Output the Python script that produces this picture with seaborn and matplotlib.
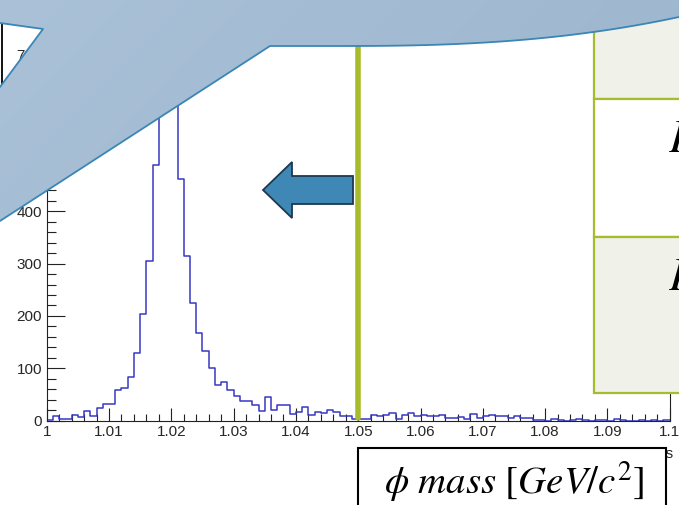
import numpy as np
import pandas as pd
import matplotlib
matplotlib.use("Agg")
import matplotlib.pyplot as plt
import seaborn as sns
from matplotlib.patches import Polygon, Rectangle
from matplotlib.ticker import FixedLocator, MultipleLocator

# ---- histogram content: K+K- invariant mass, 100 bins of 1 MeV ----
bin_lo, bin_hi, bin_width = 1.0, 1.1, 0.001
counts = [
    1, 8, 3, 3, 10, 6, 18, 8, 23, 31,
    31, 58, 63, 84, 129, 204, 306, 488, 640, 735,
    610, 462, 315, 224, 168, 132, 100, 68, 74, 59,
    46, 37, 37, 29, 19, 44, 21, 29, 29, 13,
    16, 26, 10, 17, 14, 21, 16, 8, 8, 3,
    3, 3, 10, 8, 10, 15, 3, 10, 15, 8,
    11, 8, 8, 10, 5, 5, 6, 3, 13, 5,
    8, 10, 8, 8, 5, 8, 5, 5, 1, 1,
    0, 3, 1, 0, 1, 2, 1, 0, 1, 1,
    0, 3, 1, 0, 0, 1, 0, 1, 0, 1,
]
x_ticks = [1.0, 1.01, 1.02, 1.03, 1.04, 1.05, 1.06, 1.07, 1.08, 1.09, 1.1]
x_tick_labels = ["1", "1.01", "1.02", "1.03", "1.04", "1.05", "1.06",
                 "1.07", "1.08", "1.09", "1.1"]
y_ticks = [0, 100, 200, 300, 400, 500, 600, 700]
y_tick_labels = ["0", "100", "200", "300", "400", "500", "600", "700"]
y_top = 766
cut_value = 1.05
axis_title = "invariant mass"
box_label = r"$\phi\ mass\ [GeV/c^2]$"
row_letters = ["$P$", "$P$"]

edges = [round(bin_lo + i * bin_width, 4) for i in range(len(counts) + 1)]
centers = [(a + b) / 2 for a, b in zip(edges[:-1], edges[1:])]
df = pd.DataFrame({"mass": centers, "entries": counts})

sns.set_theme(style="ticks")
plt.rcParams["font.family"] = ["Liberation Sans", "DejaVu Sans"]
plt.rcParams["mathtext.fontset"] = "stix"

W, H = 679, 505
fig = plt.figure(figsize=(W / 100, H / 100), dpi=100, facecolor="white")

# plot frame in pixel terms -> figure fractions
px_l, px_r, px_b, px_t = 46.7, 669.7, 420.5, 20.0
ax = fig.add_axes([px_l / W, (H - px_b) / H, (px_r - px_l) / W, (px_b - px_t) / H])
ax.set_facecolor("white")

sns.histplot(data=df, x="mass", weights="entries", bins=edges, element="step",
             fill=False, color="#3838c2", linewidth=1.1, ax=ax)

ax.set_xlim(bin_lo, bin_hi)
ax.set_ylim(0, y_top)
ax.set_xlabel("")
ax.set_ylabel("")
ax.xaxis.set_major_locator(FixedLocator(x_ticks))
ax.set_xticklabels(x_tick_labels)
ax.xaxis.set_minor_locator(MultipleLocator(0.002))
ax.yaxis.set_major_locator(FixedLocator(y_ticks))
ax.set_yticklabels(y_tick_labels)
ax.yaxis.set_minor_locator(MultipleLocator(20))
ax.tick_params(axis="x", which="major", direction="in", length=9.4, width=0.8,
               pad=3.6, labelsize=11, color="#222222")
ax.tick_params(axis="x", which="minor", direction="in", length=4.7, width=0.8,
               color="#222222")
ax.tick_params(axis="y", which="major", direction="in", length=13, width=0.8,
               pad=3.4, labelsize=11, color="#222222")
ax.tick_params(axis="y", which="minor", direction="in", length=6.5, width=0.8,
               color="#222222")
for s in ax.spines.values():
    s.set_visible(True)
    s.set_linewidth(0.8)
    s.set_color("#222222")

# selection cut
ax.axvline(cut_value, ymin=0.006, ymax=1.0, color="#a8bb2b", linewidth=4.0)

# ---- annotation layer in pixel coordinates ----
ov = fig.add_axes([0, 0, 1, 1], zorder=5)
ov.set_xlim(0, W)
ov.set_ylim(H, 0)
ov.axis("off")
ov.patch.set_alpha(0)

# left border piece of the canvas
ov.plot([1.5, 1.5], [20, 95], color="black", linewidth=1.3, zorder=1)

# x-axis title, mostly hidden under the label box
ov.text(673, 458, axis_title, ha="right", va="baseline", fontsize=11,
        color="#222222", zorder=1)

# speech-bubble banner across the top
xs = np.linspace(W, 340, 60)
t = (xs - 340) / (W - 340)
curve = np.column_stack([xs, 46 - 29 * t ** 2.5])
outline = np.vstack([
    [[0, 0], [W, 0]],
    curve,
    [[270, 46], [0, 221], [0, 87], [43, 29], [0, 23]],
])
bubble = Polygon(outline, closed=True, facecolor="none", edgecolor="none", zorder=4)
ov.add_patch(bubble)
gy, gx = np.mgrid[0:230, 0:W]
frac = 0.75 * gx / W + 0.25 * gy / 230
c0 = np.array([0.667, 0.757, 0.843])
c1 = np.array([0.608, 0.710, 0.808])
grad = c0[None, None, :] * (1 - frac[..., None]) + c1[None, None, :] * frac[..., None]
im = ov.imshow(grad, extent=[0, W, 230, 0], zorder=4, interpolation="bilinear",
               aspect="auto")
im.set_clip_path(bubble)
edge_main = np.vstack([curve, [[270, 46], [0, 221]]])
ov.plot(edge_main[:, 0], edge_main[:, 1], color="#3a86b6", linewidth=1.3, zorder=4.5)
ov.plot([0, 43, 0], [87, 29, 23], color="#3a86b6", linewidth=1.3, zorder=4.5)
ov.set_xlim(0, W)
ov.set_ylim(H, 0)

# left-pointing arrow
arrow = Polygon([[263, 190], [292, 162], [292, 176], [353, 176], [353, 204],
                 [292, 204], [292, 218]], closed=True, facecolor="#3f88b6",
                edgecolor="#1d3850", linewidth=1.3, zorder=3)
ov.add_patch(arrow)

# table on the right edge
green = "#a8bb2e"
cell = "#f0f1e9"
ov.add_patch(Rectangle((594, -5), 100, 104, facecolor=cell, edgecolor=green,
                       linewidth=1.6, zorder=2))
ov.add_patch(Rectangle((594, 99), 100, 138, facecolor="white", edgecolor=green,
                       linewidth=1.6, zorder=2))
ov.add_patch(Rectangle((594, 237), 100, 156, facecolor=cell, edgecolor=green,
                       linewidth=1.6, zorder=2))
for yy, letter in zip([140, 278], row_letters):
    ov.text(668, yy, letter, fontsize=34, ha="left", va="center", color="black",
            zorder=2.5)

# boxed axis label
ov.add_patch(Rectangle((358, 448), 308, 80, facecolor="white", edgecolor="black",
                       linewidth=1.5, zorder=3))
ov.text(514, 482, box_label, fontsize=28, ha="center", va="center",
        color="black", zorder=3.5)

fig.savefig("out.png", dpi=100, facecolor="white")
